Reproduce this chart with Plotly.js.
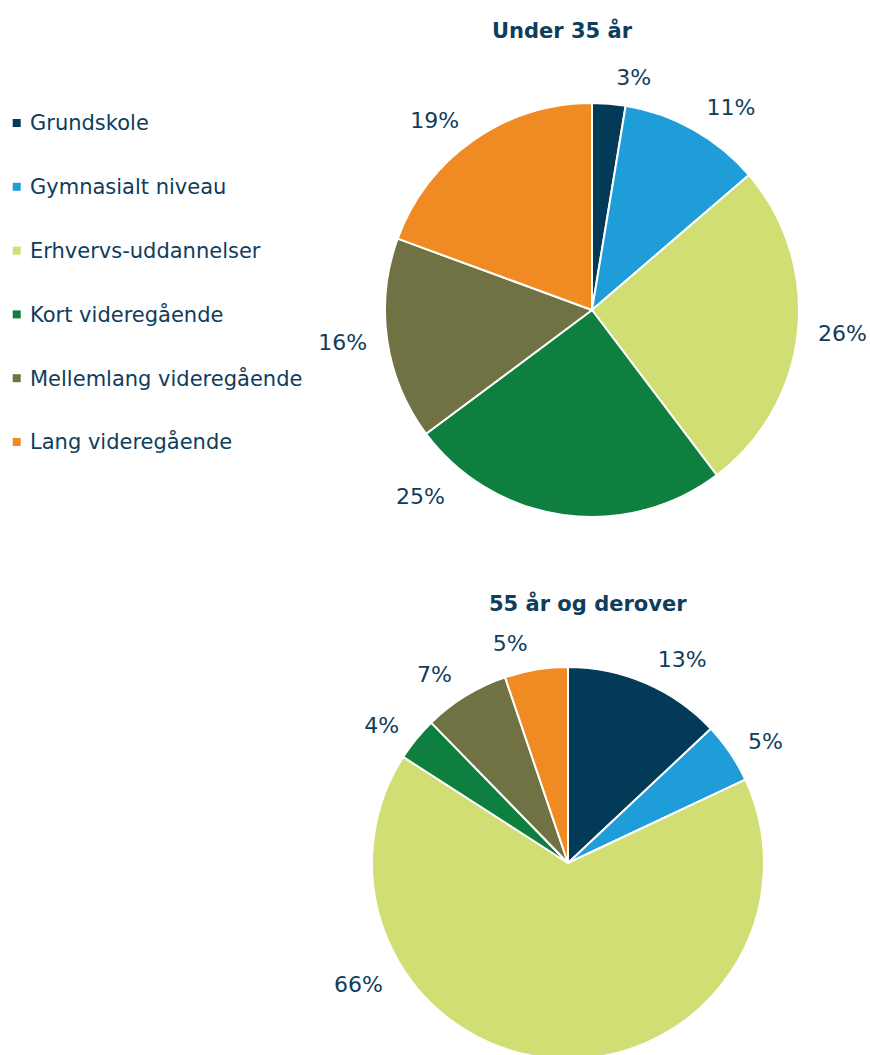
<!DOCTYPE html>
<html>
<head>
<meta charset="utf-8">
<script src="https://cdn.plot.ly/plotly-3.0.1.min.js"></script>
<style>
html,body{margin:0;padding:0;background:#fff;overflow:hidden;}
#wrap{width:870px;height:1055px;overflow:hidden;}
</style>
</head>
<body>
<div id="wrap"><div id="chart"></div></div>
<script>
// ---- data ----
var categories = ["Grundskole", "Gymnasialt niveau", "Erhvervs-uddannelser", "Kort videregående", "Mellemlang videregående", "Lang videregående"];
var colors = ["#033a58", "#1e9dd8", "#d1de74", "#0e7f3f", "#707243", "#f08a22"];
var titleUnder35 = "Under 35 år";
var titleOver55 = "55 år og derover";
var valuesUnder35 = [2.6, 11.1, 26.0, 25.1, 15.8, 19.4];
var valuesOver55 = [13.0, 5.0, 66.1, 3.6, 7.1, 5.2];

// ---- layout helpers ----
var W = 870, H = 1080;
var textColor = "#0f3d5c";
var font = "DejaVu Sans, Verdana, sans-serif";
var labelSize = 22;
function dom(cx, cy, r) {
  return { x: [(cx - r) / W, (cx + r) / W], y: [1 - (cy + r) / H, 1 - (cy - r) / H] };
}
function py(y) { return 1 - y / H; }
function pctText(values, i) {
  var s = values.reduce(function (a, b) { return a + b; }, 0);
  return Math.round(values[i] / s * 100) + "%";
}

// movedIdx: slice whose label is placed separately (like the original, off the bottom edge)
function pieTrace(values, d, showText, movedIdx) {
  return {
    type: "pie",
    labels: categories,
    values: values,
    sort: false,
    direction: "clockwise",
    rotation: 0,
    domain: d,
    marker: showText
      ? { colors: colors.map(function () { return "rgba(0,0,0,0)"; }), line: { width: 0 } }
      : { colors: colors, line: { color: "#ffffff", width: 2 } },
    textposition: showText ? "outside" : "none",
    texttemplate: values.map(function (v, i) { return i === movedIdx ? "" : "%{percent:.0%}"; }),
    outsidetextfont: { family: font, size: labelSize, color: textColor },
    hoverinfo: "skip",
    showlegend: false
  };
}

var topC = { cx: 592, cy: 310, r: 207 };
var botC = { cx: 568, cy: 863, r: 196 };
var gap = 14;
var topMoved = 3, botMoved = 2;

var data = [
  pieTrace(valuesUnder35, dom(topC.cx, topC.cy, topC.r), false),
  pieTrace(valuesUnder35, dom(topC.cx, topC.cy, topC.r + gap), true, topMoved),
  pieTrace(valuesOver55, dom(botC.cx, botC.cy, botC.r), false),
  pieTrace(valuesOver55, dom(botC.cx, botC.cy, botC.r + gap), true, botMoved)
];

var annotations = [
  { text: "<b>" + titleUnder35 + "</b>", x: 562 / W, y: py(30), xref: "paper", yref: "paper",
    xanchor: "center", yanchor: "middle", showarrow: false, font: { family: font, size: 21, color: textColor } },
  { text: "<b>" + titleOver55 + "</b>", x: 588 / W, y: py(603), xref: "paper", yref: "paper",
    xanchor: "center", yanchor: "middle", showarrow: false, font: { family: font, size: 21, color: textColor } },
  { text: pctText(valuesUnder35, topMoved), x: 420 / W, y: py(496), xref: "paper", yref: "paper",
    xanchor: "center", yanchor: "middle", showarrow: false, font: { family: font, size: labelSize, color: textColor } },
  { text: pctText(valuesOver55, botMoved), x: 358 / W, y: py(984), xref: "paper", yref: "paper",
    xanchor: "center", yanchor: "middle", showarrow: false, font: { family: font, size: labelSize, color: textColor } }
];
var shapes = [];
var legY0 = 123, legStep = 63.8, sq = 8;
categories.forEach(function (c, i) {
  var yc = legY0 + i * legStep;
  annotations.push({ text: c, x: 28 / W, y: py(yc), xref: "paper", yref: "paper",
    xanchor: "left", yanchor: "middle", showarrow: false,
    font: { family: font, size: 21, color: textColor } });
  shapes.push({ type: "rect", xref: "paper", yref: "paper",
    x0: 12.7 / W, x1: (12.7 + sq) / W, y0: py(yc + sq / 2), y1: py(yc - sq / 2),
    fillcolor: colors[i], line: { width: 0 } });
});

var layout = {
  width: W, height: H,
  margin: { l: 0, r: 0, t: 0, b: 0 },
  paper_bgcolor: "#ffffff",
  showlegend: false,
  annotations: annotations,
  shapes: shapes,
  font: { family: font, color: textColor }
};

Plotly.newPlot("chart", data, layout, { staticPlot: true, displayModeBar: false });
</script>
</body>
</html>
